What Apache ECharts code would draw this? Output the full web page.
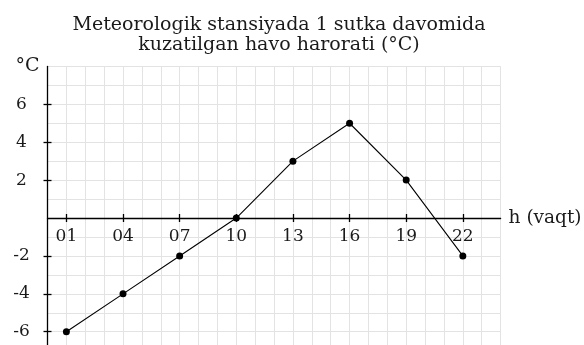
<!DOCTYPE html>
<html lang="en">

<head>
    <meta charset="UTF-8">
    <title>Havo harorati</title>
    <style>
        html, body { margin: 0; padding: 0; background: #fff; }
    </style>
</head>

<body onload="setup()">

    <div id="chart" style="width: 584px; height: 345px;"></div>
    <script src="https://cdn.jsdelivr.net/npm/echarts@6/dist/echarts.min.js"></script>
    <script>

        // data
        var hours = [1, 4, 7, 10, 13, 16, 19, 22]
        var temps = [-6, -4, -2, 0, 3, 5, 2, -2]
        var xTicks = [1, 4, 7, 10, 13, 16, 19, 22]
        var yTicks = [6, 4, 2, -2, -4, -6]

        var font = 'DejaVu Serif'
        var chart

        function setup() {
            chart = echarts.init(document.getElementById('chart'), null, { renderer: 'canvas' })
            chart.setOption(buildOption())
        }

        function pad(v) {
            return (v < 10 ? '0' : '') + v
        }

        function buildOption() {
            let points = hours.map((h, i) => [h, temps[i]])
            let black = { color: '#000', width: 1.3 }
            let grey = { show: true, lineStyle: { color: '#e3e3e3', width: 1 } }
            let noLabel = { show: false }

            return {
                animation: false,
                title: {
                    text: 'Meteorologik stansiyada 1 sutka davomida\nkuzatilgan havo harorati (°C)',
                    left: 274,
                    top: 10,
                    textAlign: 'center',
                    textStyle: { fontFamily: font, fontSize: 19, fontWeight: 'normal', color: '#1a1a1a', lineHeight: 20 }
                },
                grid: {
                    left: 47.5, right: 83.4, top: 66.4, bottom: -5.7,
                    outerBoundsMode: 'none'
                },
                xAxis: [{
                    // grid lines every hour + labels, shifted up to the zero line
                    // (onZero labels do not show up, so offset is used instead)
                    type: 'value', min: 0, max: 24, interval: 1, position: 'bottom',
                    offset: -132.67,
                    axisLine: { show: false, onZero: false },
                    axisTick: { show: false },
                    axisLabel: {
                        show: true, margin: 10, fontFamily: font, fontSize: 17, color: '#1a1a1a',
                        formatter: v => xTicks.indexOf(v) >= 0 ? pad(v) : ''
                    },
                    splitLine: grey
                }, {
                    // axis line and outer half of the ticks
                    type: 'value', min: 0, max: 24, position: 'bottom',
                    name: 'h (vaqt)', nameLocation: 'end', nameGap: 8,
                    nameTextStyle: { fontFamily: font, fontSize: 18.5, color: '#1a1a1a', verticalAlign: 'middle' },
                    axisLine: { show: true, onZero: true, lineStyle: black },
                    axisTick: { show: true, length: 4, customValues: xTicks, lineStyle: black },
                    axisLabel: noLabel,
                    splitLine: { show: false }
                }, {
                    // inner half of the ticks
                    type: 'value', min: 0, max: 24, position: 'bottom',
                    axisLine: { show: false, onZero: true },
                    axisTick: { show: true, inside: true, length: 4, customValues: xTicks, lineStyle: black },
                    axisLabel: noLabel,
                    splitLine: { show: false }
                }],
                yAxis: [{
                    type: 'value', min: -7, max: 8, interval: 1, position: 'left',
                    axisLine: { show: false, onZero: false },
                    axisTick: { show: false },
                    axisLabel: noLabel,
                    splitLine: grey
                }, {
                    type: 'value', min: -7, max: 8, position: 'left',
                    name: '°C', nameLocation: 'end', nameGap: 0,
                    nameTextStyle: { fontFamily: font, fontSize: 19, color: '#1a1a1a', align: 'right', verticalAlign: 'middle', padding: [6, 8, 0, 0] },
                    axisLine: { show: true, onZero: false, lineStyle: black },
                    axisTick: { show: true, length: 4, customValues: yTicks, lineStyle: black },
                    axisLabel: {
                        customValues: yTicks, align: 'center', margin: 26,
                        fontFamily: font, fontSize: 17, color: '#1a1a1a'
                    },
                    splitLine: { show: false }
                }, {
                    type: 'value', min: -7, max: 8, position: 'left',
                    axisLine: { show: false, onZero: false },
                    axisTick: { show: true, inside: true, length: 4, customValues: yTicks, lineStyle: black },
                    axisLabel: noLabel,
                    splitLine: { show: false }
                }],
                series: [{
                    type: 'line',
                    data: points,
                    symbol: 'circle',
                    symbolSize: 7,
                    itemStyle: { color: '#000' },
                    lineStyle: { color: '#000', width: 1.1 },
                    z: 5
                }]
            }
        }
    </script>
</body>

</html>
